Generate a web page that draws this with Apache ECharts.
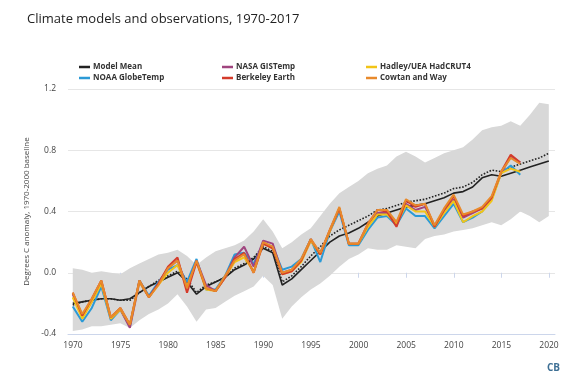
<!DOCTYPE html>
<html>
<head>
<meta charset="utf-8">
<script src="https://cdn.jsdelivr.net/npm/echarts@6/dist/echarts.min.js"></script>
<style>html,body{margin:0;padding:0;background:#fff;}#c{width:580px;height:381px;}</style>
</head>
<body>
<div id="c"></div>
<script>
// ---- data ----
const obsYears = [1970,1971,1972,1973,1974,1975,1976,1977,1978,1979,1980,1981,1982,1983,1984,1985,1986,1987,1988,1989,1990,1991,1992,1993,1994,1995,1996,1997,1998,1999,2000,2001,2002,2003,2004,2005,2006,2007,2008,2009,2010,2011,2012,2013,2014,2015,2016,2017];
const modelYears = [1970,1971,1972,1973,1974,1975,1976,1977,1978,1979,1980,1981,1982,1983,1984,1985,1986,1987,1988,1989,1990,1991,1992,1993,1994,1995,1996,1997,1998,1999,2000,2001,2002,2003,2004,2005,2006,2007,2008,2009,2010,2011,2012,2013,2014,2015,2016,2017,2018,2019,2020];

const modelMean = [-0.20,-0.19,-0.18,-0.17,-0.17,-0.18,-0.17,-0.13,-0.09,-0.06,-0.03,0.00,-0.06,-0.14,-0.09,-0.06,-0.03,0.02,0.05,0.09,0.16,0.13,-0.08,-0.04,0.02,0.08,0.14,0.20,0.24,0.26,0.29,0.33,0.37,0.39,0.41,0.43,0.44,0.45,0.47,0.49,0.52,0.53,0.56,0.62,0.64,0.63,0.65,0.67,0.69,0.71,0.73];
const modelDotted = [-0.21,-0.19,-0.18,-0.17,-0.17,-0.18,-0.18,-0.13,-0.09,-0.05,-0.02,0.01,-0.04,-0.13,-0.08,-0.06,-0.03,0.03,0.06,0.10,0.17,0.14,-0.06,-0.02,0.04,0.11,0.17,0.24,0.28,0.31,0.34,0.37,0.41,0.42,0.44,0.46,0.47,0.48,0.50,0.52,0.55,0.56,0.59,0.64,0.67,0.66,0.69,0.71,0.73,0.75,0.78];
const bandUpper = [0.03,0.02,0.00,0.01,0.00,-0.01,0.03,0.06,0.09,0.12,0.13,0.15,0.11,0.05,0.10,0.14,0.16,0.18,0.21,0.27,0.35,0.27,0.16,0.20,0.25,0.29,0.37,0.45,0.52,0.56,0.60,0.65,0.68,0.70,0.76,0.79,0.76,0.72,0.75,0.78,0.80,0.82,0.87,0.93,0.95,0.96,0.99,0.96,1.03,1.11,1.10];
const bandLower = [-0.38,-0.37,-0.35,-0.35,-0.34,-0.33,-0.36,-0.31,-0.27,-0.24,-0.20,-0.14,-0.22,-0.32,-0.24,-0.23,-0.19,-0.15,-0.12,-0.09,-0.02,-0.08,-0.30,-0.22,-0.16,-0.11,-0.07,-0.02,0.04,0.09,0.12,0.16,0.15,0.15,0.18,0.17,0.16,0.22,0.24,0.25,0.27,0.28,0.29,0.31,0.33,0.31,0.35,0.40,0.37,0.33,0.37];

const noaa = [-0.22,-0.32,-0.23,-0.09,-0.31,-0.24,-0.35,-0.05,-0.15,-0.06,0.02,0.05,-0.06,0.09,-0.11,-0.11,-0.02,0.12,0.13,0.06,0.19,0.17,0.02,0.04,0.09,0.22,0.07,0.27,0.40,0.18,0.18,0.28,0.36,0.37,0.31,0.42,0.37,0.37,0.29,0.37,0.45,0.33,0.36,0.40,0.48,0.65,0.70,0.64];
const nasa = [-0.14,-0.29,-0.19,-0.06,-0.30,-0.24,-0.36,-0.06,-0.16,-0.07,0.03,0.08,-0.09,0.08,-0.08,-0.12,-0.03,0.10,0.17,0.04,0.21,0.19,0.00,0.02,0.08,0.21,0.13,0.27,0.42,0.19,0.19,0.31,0.39,0.39,0.33,0.45,0.41,0.43,0.31,0.40,0.48,0.36,0.39,0.42,0.49,0.65,0.76,0.72];
const hadley = [-0.16,-0.30,-0.19,-0.07,-0.30,-0.24,-0.34,-0.06,-0.16,-0.08,0.00,0.05,-0.09,0.07,-0.11,-0.12,-0.03,0.07,0.10,0.01,0.19,0.16,-0.01,0.01,0.07,0.21,0.12,0.27,0.42,0.19,0.19,0.30,0.38,0.38,0.32,0.44,0.40,0.40,0.30,0.39,0.47,0.33,0.37,0.40,0.47,0.65,0.68,0.66];
const berkeley = [-0.13,-0.28,-0.17,-0.05,-0.29,-0.23,-0.34,-0.05,-0.16,-0.07,0.04,0.10,-0.13,0.07,-0.10,-0.12,-0.03,0.09,0.13,0.00,0.19,0.16,-0.01,0.01,0.08,0.22,0.12,0.28,0.42,0.19,0.19,0.32,0.41,0.40,0.30,0.47,0.43,0.45,0.30,0.41,0.50,0.37,0.40,0.42,0.49,0.66,0.77,0.72];
const cowtan = [-0.13,-0.27,-0.17,-0.05,-0.29,-0.23,-0.34,-0.05,-0.16,-0.08,0.03,0.08,-0.10,0.08,-0.10,-0.12,-0.02,0.08,0.12,0.00,0.20,0.17,0.00,0.02,0.09,0.22,0.13,0.28,0.43,0.19,0.19,0.32,0.41,0.41,0.33,0.48,0.44,0.45,0.31,0.42,0.51,0.38,0.40,0.43,0.50,0.66,0.75,0.71];

const xTicks = {min: 1970, max: 2020, step: 5};
const yTicks = {min: -0.4, max: 1.2, step: 0.4};

// ---- helpers ----
const pair = (xs, vs) => vs.map((v, i) => [xs[i], v]);
const bandData = modelYears.map((y, i) => [y, bandLower[i], bandUpper[i]]);

const FONT = "'Open Sans', 'DejaVu Sans', sans-serif";
const obsLine = (name, color, data) => ({
  name, type: 'line', xAxisIndex: 0, yAxisIndex: 0, data: pair(obsYears, data),
  symbol: 'none', lineStyle: {color, width: 2}, itemStyle: {color}, z: 5
});

const chart = echarts.init(document.getElementById('c'), null, {renderer: 'canvas'});
const legendCommon = {
  orient: 'vertical', top: 62, itemWidth: 11, itemHeight: 2.5, itemGap: 1, icon: 'rect',
  textStyle: {fontSize: 8, fontWeight: 'bold', color: '#333', fontFamily: FONT, lineHeight: 10, padding: [0,0,0,-2]},
  padding: 0
};
chart.setOption({
  animation: false,
  backgroundColor: '#fff',
  title: {text: 'Climate models and observations, 1970-2017', left: 22, top: 8,
    textStyle: {fontSize: 13, fontWeight: 'normal', color: '#222', fontFamily: FONT}},
  legend: [
    Object.assign({}, legendCommon, {left: 79, data: ['Model Mean', 'NOAA GlobeTemp']}),
    Object.assign({}, legendCommon, {left: 222, data: ['NASA GISTemp', 'Berkeley Earth']}),
    Object.assign({}, legendCommon, {left: 366, data: ['Hadley/UEA HadCRUT4', 'Cowtan and Way']})
  ],
  grid: [
    {left: 68, right: 25, top: 89, bottom: 47},
    {left: 73, right: 31, top: 89, bottom: 47}
  ],
  xAxis: [
    {type: 'value', gridIndex: 0, min: 1969.5, max: 2020.65,
      axisLabel: {show: false}, axisTick: {show: false}, splitLine: {show: false},
      axisLine: {show: true, onZero: false, lineStyle: {color: '#ccd6eb', width: 1}}},
    {type: 'value', gridIndex: 1, min: xTicks.min, max: xTicks.max, interval: xTicks.step,
      axisLine: {show: false}, splitLine: {show: false},
      axisTick: {show: true, length: 5, lineStyle: {color: '#ccd6eb'}},
      axisLabel: {margin: 7, fontSize: 8.5, color: '#444', fontFamily: FONT, formatter: v => String(v)}}
  ],
  yAxis: [
    {type: 'value', gridIndex: 0, min: yTicks.min, max: yTicks.max, interval: yTicks.step,
      name: 'Degrees C anomaly, 1970-2000 baseline', nameLocation: 'middle', nameGap: 25,
      nameTextStyle: {fontSize: 8, color: '#444', fontFamily: FONT},
      axisLine: {show: false}, axisTick: {show: false},
      splitLine: {lineStyle: {color: '#e6e6e6', width: 1}},
      axisLabel: {margin: 12, fontSize: 8.5, color: '#444', fontFamily: FONT, formatter: v => v.toFixed(1)}},
    {type: 'value', gridIndex: 1, min: yTicks.min, max: yTicks.max, show: false, splitLine: {show: false}}
  ],
  series: [
    {name: 'band', type: 'custom', xAxisIndex: 0, yAxisIndex: 0, data: bandData, silent: true, z: 1,
      encode: {x: 0, y: [1, 2]},
      renderItem: function (params, api) {
        if (params.dataIndex !== 0) return null;
        const upperPts = bandData.map(d => api.coord([d[0], d[2]]));
        const lowerPts = bandData.map(d => api.coord([d[0], d[1]])).reverse();
        return {type: 'polygon', shape: {points: upperPts.concat(lowerPts)},
          style: {fill: '#d8d8d8', stroke: null}};
      }},
    {name: 'Model Mean (updated)', type: 'line', data: pair(modelYears, modelDotted), symbol: 'none',
      lineStyle: {color: '#222', width: 1.6, type: 'dotted'}, z: 3},
    {name: 'Model Mean', type: 'line', data: pair(modelYears, modelMean), symbol: 'none',
      lineStyle: {color: '#222', width: 1.6}, itemStyle: {color: '#222'}, z: 3},
    obsLine('NOAA GlobeTemp', '#2b9ad6', noaa),
    obsLine('NASA GISTemp', '#a0457f', nasa),
    obsLine('Hadley/UEA HadCRUT4', '#f2c417', hadley),
    obsLine('Berkeley Earth', '#d43b2b', berkeley),
    obsLine('Cowtan and Way', '#e88a2c', cowtan)
  ],
  graphic: [
    {type: 'text', right: 20, bottom: 8, style: {text: 'CB', fontSize: 10, fontWeight: 'bold', fill: '#3d6f94', fontFamily: FONT}}
  ]
});
</script>
</body>
</html>
